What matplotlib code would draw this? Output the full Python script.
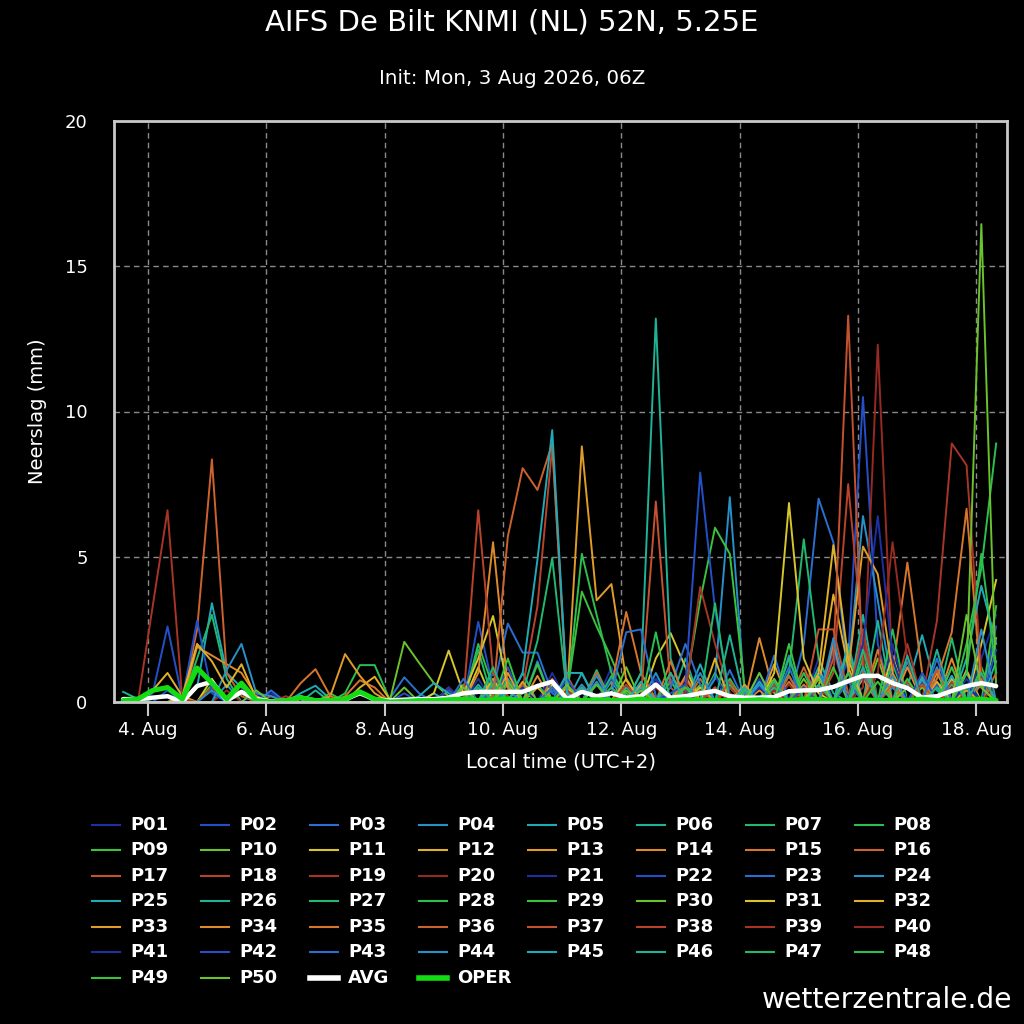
import numpy as np
import pandas as pd
import matplotlib
matplotlib.use('Agg')
import matplotlib.pyplot as plt
from matplotlib.lines import Line2D

# 6-hourly precipitation (mm), local time UTC+2, first step 3 Aug 14:00
start = '2026-08-03 14:00'
n_steps = 60

# ensemble members P01..P50, only the non-zero steps {step: mm}
members = [
    {10: 0.3, 24: 0.8, 27: 0.5, 33: 1.2, 38: 0.4, 43: 0.8, 47: 1.5, 50: 2.2, 53: 0.6, 55: 1.0, 58: 1.5, 59: 3.0},
    {2: 0.3, 3: 2.6, 4: 0.1, 22: 0.4, 26: 1.2, 30: 0.6, 37: 0.8, 44: 0.5, 49: 1.5, 50: 10.5, 51: 2.0, 54: 0.7, 57: 0.4},
    {18: 0.1, 19: 0.85, 20: 0.3, 25: 1.0, 29: 0.4, 35: 0.6, 41: 1.1, 46: 2.0, 47: 7.0, 48: 5.5, 49: 1.0, 52: 0.5, 56: 0.9},
    {7: 0.6, 23: 0.5, 28: 1.4, 32: 0.7, 36: 1.0, 42: 0.5, 45: 1.6, 49: 1.0, 50: 6.4, 51: 3.5, 52: 0.5, 55: 1.2, 58: 0.8},
    {5: 0.5, 6: 3.4, 7: 1.0, 8: 0.5, 9: 0.2, 21: 0.3, 26: 0.8, 31: 1.0, 34: 0.5, 39: 1.3, 45: 0.9, 53: 0.5, 54: 2.3, 55: 0.4, 57: 1.0},
    {0: 0.35, 1: 0.1, 13: 0.4, 24: 0.5, 27: 1.0, 33: 0.7, 38: 1.5, 43: 0.6, 47: 1.2, 51: 2.8, 56: 0.6, 59: 1.4},
    {5: 1.5, 6: 3.0, 7: 0.8, 24: 1.8, 26: 0.6, 32: 1.1, 37: 0.7, 45: 1.0, 46: 5.6, 47: 1.5, 48: 0.3, 52: 1.3, 55: 0.5},
    {15: 0.3, 16: 1.27, 17: 1.27, 18: 0.1, 25: 0.7, 30: 0.5, 35: 1.0, 41: 0.6, 50: 1.5, 54: 0.9, 57: 2.0, 58: 4.6, 59: 8.9},
    {6: 0.6, 23: 0.6, 28: 1.3, 30: 0.3, 31: 3.8, 32: 2.6, 33: 1.5, 34: 0.3, 40: 1.0, 44: 0.4, 49: 1.8, 53: 0.7, 58: 1.2},
    {19: 2.07, 20: 1.35, 21: 0.65, 22: 0.2, 27: 0.4, 34: 1.2, 39: 0.6, 46: 0.8, 51: 1.5, 55: 0.6, 59: 2.2},
    {6: 0.8, 24: 1.2, 29: 0.6, 36: 1.5, 37: 2.37, 38: 1.2, 42: 0.3, 47: 0.9, 52: 1.6, 56: 0.8, 58: 2.0, 59: 4.2},
    {2: 0.4, 3: 1.0, 4: 0.2, 16: 0.5, 17: 0.87, 18: 0.1, 25: 0.8, 30: 0.5, 35: 0.6, 41: 0.5, 47: 0.5, 48: 3.7, 49: 1.2, 54: 0.8, 57: 1.1},
    {23: 0.3, 26: 1.0, 30: 0.2, 31: 8.8, 32: 3.5, 33: 4.06, 34: 0.75, 40: 0.5, 44: 1.3, 50: 0.8, 55: 1.0},
    {5: 1.9, 6: 1.6, 7: 1.3, 8: 1.0, 9: 0.2, 22: 0.5, 28: 0.9, 37: 1.0, 43: 2.2, 44: 0.3, 51: 1.0, 56: 1.5},
    {15: 0.2, 16: 0.75, 17: 0.5, 29: 0.8, 33: 0.5, 34: 3.1, 35: 1.0, 36: 0.1, 45: 0.7, 52: 1.0, 53: 4.8, 54: 1.0, 58: 0.6},
    {5: 2.5, 6: 8.35, 7: 1.0, 8: 0.2, 27: 0.6, 32: 1.0, 39: 0.8, 46: 1.2, 50: 2.0, 56: 0.4},
    {10: 0.2, 25: 0.5, 30: 0.9, 35: 0.2, 36: 6.9, 37: 0.5, 42: 0.4, 47: 2.5, 48: 2.5, 49: 0.3, 55: 1.1},
    {6: 0.5, 27: 0.5, 28: 3.3, 29: 8.8, 30: 0.3, 38: 0.8, 44: 0.6, 48: 1.0, 49: 7.5, 50: 2.0, 53: 0.7},
    {2: 3.3, 3: 6.6, 4: 0.1, 24: 0.4, 33: 0.5, 41: 0.5, 54: 0.1, 55: 2.8, 56: 8.9, 57: 8.15, 58: 1.0},
    {7: 0.4, 26: 0.7, 36: 0.5, 45: 0.6, 50: 0.5, 51: 12.3, 52: 1.0, 56: 0.5},
    {9: 0.3, 22: 0.5, 29: 1.0, 35: 0.4, 40: 0.9, 46: 0.6, 52: 2.0, 57: 0.8},
    {4: 0.1, 5: 2.8, 6: 0.3, 24: 2.76, 25: 0.5, 33: 0.8, 38: 0.4, 43: 1.0, 48: 1.8, 55: 0.6, 59: 2.6},
    {10: 0.4, 25: 0.4, 26: 2.7, 27: 1.7, 28: 1.7, 29: 0.3, 37: 0.5, 38: 2.0, 39: 0.6, 44: 1.6, 50: 0.9, 56: 1.2},
    {7: 1.1, 8: 2.0, 9: 0.3, 10: 0.2, 31: 0.6, 36: 0.8, 40: 0.8, 41: 7.05, 42: 0.3, 47: 1.0, 53: 1.4, 58: 0.7},
    {12: 0.3, 13: 0.56, 14: 0.1, 23: 0.4, 30: 1.0, 31: 1.0, 35: 0.5, 43: 0.7, 49: 2.0, 54: 0.8, 57: 1.5, 58: 4.0, 59: 2.0},
    {25: 0.6, 30: 0.4, 35: 1.0, 36: 13.2, 37: 1.5, 44: 0.5, 50: 3.0, 55: 1.8},
    {27: 0.3, 28: 2.1, 29: 4.96, 30: 0.25, 33: 0.9, 38: 0.6, 45: 1.5, 51: 1.0, 56: 2.2},
    {24: 2.0, 25: 0.5, 30: 0.2, 31: 5.1, 32: 3.0, 33: 1.0, 34: 0.2, 41: 0.8, 46: 1.0, 52: 2.5, 57: 0.5},
    {14: 0.3, 38: 0.5, 39: 3.5, 40: 6.0, 41: 5.1, 42: 0.5, 48: 1.2, 53: 0.8, 59: 3.3},
    {19: 0.5, 26: 0.7, 34: 0.4, 44: 0.8, 50: 1.0, 54: 0.5, 57: 1.0, 58: 16.45, 59: 0.5},
    {21: 0.3, 22: 1.77, 23: 0.3, 24: 1.5, 25: 2.96, 26: 0.5, 39: 0.5, 44: 1.0, 45: 6.85, 46: 1.5, 47: 0.3, 52: 0.8},
    {4: 0.2, 5: 2.0, 6: 1.4, 7: 0.5, 8: 1.3, 9: 0.1, 28: 0.5, 34: 0.8, 40: 1.5, 47: 1.0, 48: 5.4, 49: 1.5, 55: 0.7},
    {14: 0.2, 15: 1.65, 16: 0.9, 17: 0.3, 27: 0.7, 36: 0.6, 42: 0.6, 49: 1.0, 50: 5.35, 51: 4.4, 52: 1.0, 57: 0.4},
    {24: 1.0, 25: 5.5, 26: 0.5, 32: 0.6, 38: 0.9, 43: 0.4, 48: 2.0, 53: 1.2, 58: 0.8},
    {12: 0.65, 13: 1.13, 14: 0.2, 29: 0.5, 37: 1.4, 46: 0.6, 51: 1.8, 55: 0.8, 56: 2.4, 57: 6.65, 58: 0.5},
    {25: 0.2, 26: 5.7, 27: 8.05, 28: 7.3, 29: 8.9, 30: 0.2, 39: 0.4, 45: 0.9, 52: 0.6, 59: 1.0},
    {31: 0.5, 41: 0.7, 48: 1.5, 49: 13.3, 50: 1.0, 54: 0.6},
    {23: 0.1, 24: 6.6, 25: 1.0, 26: 0.2, 34: 0.6, 40: 0.5, 46: 0.4, 50: 2.5, 56: 0.7},
    {11: 0.2, 30: 0.4, 38: 0.3, 39: 3.96, 40: 2.0, 41: 0.3, 47: 0.5, 53: 2.0, 58: 0.9},
    {8: 0.3, 33: 0.3, 44: 0.4, 51: 1.0, 52: 5.5, 53: 1.5, 59: 0.6},
    {27: 0.5, 36: 0.8, 43: 0.5, 50: 2.0, 51: 6.4, 52: 1.5, 57: 0.6},
    {3: 0.4, 19: 0.3, 30: 0.8, 37: 0.3, 38: 0.6, 39: 7.9, 40: 3.2, 41: 0.2, 46: 0.5, 54: 1.0, 59: 1.8},
    {23: 0.8, 29: 0.5, 33: 0.3, 34: 2.4, 35: 2.5, 36: 0.2, 45: 1.2, 49: 0.7, 55: 1.5},
    {6: 0.4, 26: 0.4, 32: 0.9, 39: 1.0, 43: 0.6, 48: 2.2, 52: 0.9, 58: 2.5},
    {20: 0.2, 21: 0.65, 22: 0.3, 27: 1.0, 28: 4.9, 29: 9.36, 30: 0.3, 35: 0.7, 42: 0.5, 50: 1.2, 56: 0.9},
    {24: 0.6, 31: 0.5, 37: 1.0, 41: 2.3, 47: 0.6, 53: 1.6, 58: 1.0},
    {8: 0.3, 25: 1.2, 33: 0.5, 40: 3.4, 44: 0.7, 50: 1.8, 55: 0.5},
    {12: 0.2, 28: 0.6, 36: 2.4, 42: 0.4, 49: 1.0, 57: 1.0, 58: 5.1, 59: 1.0},
    {16: 0.3, 26: 1.5, 32: 0.6, 38: 0.5, 45: 2.0, 51: 0.7, 56: 1.2},
    {9: 0.4, 23: 0.5, 30: 0.6, 35: 0.4, 43: 1.0, 47: 0.8, 53: 0.5, 57: 3.0, 58: 0.5},
]

avg = [0.1, 0.1, 0.15, 0.2, 0.0, 0.55, 0.7, 0.05, 0.35, 0.1,
       0.02, 0.05, 0.15, 0.05, 0.05, 0.1, 0.3, 0.1, 0.05, 0.08,
       0.1, 0.1, 0.15, 0.3, 0.35, 0.35, 0.35, 0.35, 0.55, 0.7,
       0.1, 0.35, 0.2, 0.3, 0.15, 0.2, 0.6, 0.15, 0.2, 0.3,
       0.38, 0.2, 0.15, 0.15, 0.17, 0.37, 0.4, 0.41, 0.52, 0.72,
       0.9, 0.9, 0.65, 0.48, 0.15, 0.2, 0.38, 0.55, 0.65, 0.55]

oper = [0.05, 0.1, 0.4, 0.5, 0.1, 1.17, 0.65, 0.1, 0.65, 0.05,
        0.0, 0.05, 0.15, 0.05, 0.05, 0.1, 0.35, 0.1, 0.0, 0.02,
        0.05, 0.05, 0.08, 0.1, 0.05, 0.08, 0.1, 0.05, 0.05, 0.1,
        0.05, 0.05, 0.08, 0.05, 0.05, 0.1, 0.05, 0.05, 0.08, 0.05,
        0.05, 0.05, 0.05, 0.08, 0.05, 0.05, 0.1, 0.08, 0.05, 0.05,
        0.08, 0.05, 0.05, 0.05, 0.1, 0.05, 0.05, 0.08, 0.1, 0.05]

tick_days = ['2026-08-04', '2026-08-06', '2026-08-08', '2026-08-10',
             '2026-08-12', '2026-08-14', '2026-08-16', '2026-08-18']
tick_labels = ['4. Aug', '6. Aug', '8. Aug', '10. Aug',
               '12. Aug', '14. Aug', '16. Aug', '18. Aug']

# colour cycle of the members (20 steps, blue -> green -> yellow -> red)
palette = ['#1f2f9f', '#2350c8', '#2a6fd0', '#2790c8', '#20aab8',
           '#1fb296', '#22b870', '#2bbf4f', '#3cc23a', '#6ac22c',
           '#d6c62c', '#e0b02a', '#e09c28', '#de8a2a', '#d6762c',
           '#cc632e', '#c4522e', '#b8432a', '#a63526', '#962a22']
oper_color = '#12dd12'

W = 1024.0
fig = plt.figure(figsize=(10.24, 10.24), dpi=100, facecolor='black')
ax = fig.add_axes([114 / W, 1 - 702 / W, (1007 - 114) / W, (702 - 121) / W])
ax.set_facecolor('black')

times = pd.date_range(start, periods=n_steps, freq='6h')
for i, m in enumerate(members):
    vals = np.zeros(n_steps)
    for k, v in m.items():
        vals[k] = v
    ax.plot(times, vals, color=palette[i % 20], lw=1.4)
ax.plot(times, avg, color='white', lw=3.2, solid_joinstyle='round', solid_capstyle='round')
ax.plot(times, oper, color=oper_color, lw=3.6, solid_joinstyle='round', solid_capstyle='round')

ax.set_ylim(0, 20)
ax.set_yticks([0, 5, 10, 15, 20])
ax.set_xlim(pd.Timestamp('2026-08-03 10:18'), pd.Timestamp('2026-08-18 12:24'))
ax.set_xticks(pd.to_datetime(tick_days))
ax.set_xticklabels(tick_labels)

ax.grid(True, color='#8a8a8a', ls=(0, (4, 3)), lw=1)
ax.set_axisbelow(True)
for s in ax.spines.values():
    s.set_color('#c8c8c8')
    s.set_linewidth(2)

ax.tick_params(axis='y', length=0, pad=19, labelsize=13, labelcolor='white')
ax.tick_params(axis='x', length=10, width=1.5, color='#c8c8c8', pad=4,
               labelsize=13.3, labelcolor='white')

ax.set_xlabel('Local time (UTC+2)', color='white', fontsize=14)
ax.xaxis.label.set_va('center')
ax.xaxis.set_label_coords(0.5, -0.1033)
ax.set_ylabel('Neerslag (mm)', color='white', fontsize=14)
ax.yaxis.label.set_va('center')
ax.yaxis.set_label_coords(-0.0862, 0.5)

fig.text(0.5, 1 - 22 / W, 'AIFS De Bilt KNMI (NL) 52N, 5.25E', color='white',
         fontsize=21, ha='center', va='center')
fig.text(0.5, 1 - 78 / W, 'Init: Mon, 3 Aug 2026, 06Z', color='white',
         fontsize=14.3, ha='center', va='center')
fig.text(1012 / W, 1 - 1000 / W, 'wetterzentrale.de', color='white',
         fontsize=20.3, ha='right', va='center')

# legend, 8 columns, row by row
items = [('P%02d' % (i + 1), palette[i % 20], 1.5) for i in range(len(members))]
items += [('AVG', 'white', 4), ('OPER', oper_color, 4)]
for n, (label, c, lw) in enumerate(items):
    row, col = divmod(n, 8)
    tx = 130 + 109 * col
    ty = 1 - (824.5 + 25.55 * row) / W
    fig.add_artist(Line2D([(tx - 38) / W, (tx - 10) / W], [ty, ty],
                          transform=fig.transFigure, color=c, lw=lw))
    fig.text(tx / W, ty, label, color='white', fontsize=13, fontweight='bold',
             ha='left', va='center')

fig.savefig('out.png', dpi=100, facecolor='black')
